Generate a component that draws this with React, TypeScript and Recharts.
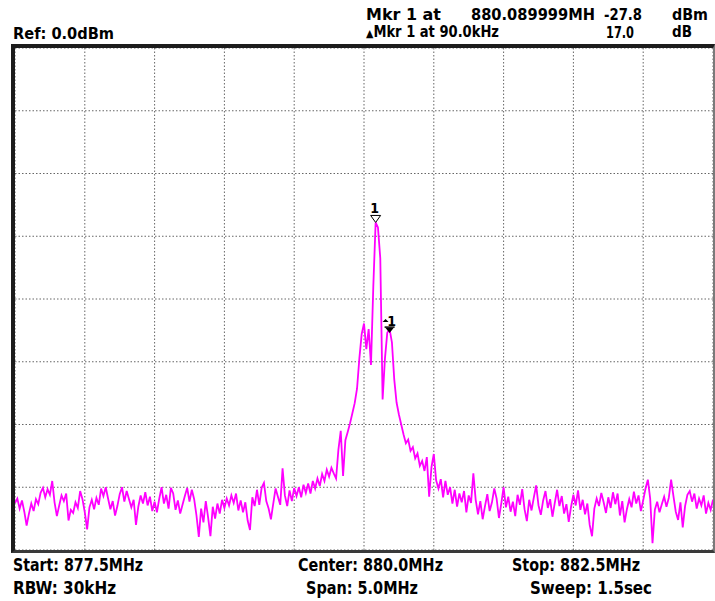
import React from 'react'
import { LineChart, Line, XAxis, YAxis, CartesianGrid, ReferenceDot } from 'recharts'

// sweep settings
const startMHz = 877.5
const stopMHz = 882.5
const freqTicks = [877.5, 878, 878.5, 879, 879.5, 880, 880.5, 881, 881.5, 882, 882.5]
const levelTicks = [-80, -70, -60, -50, -40, -30, -20, -10, 0]

// trace amplitude in dBm (301 sweep points)
const traceDbm = [
  -72.5, -71.8, -73.4, -72.1, -73.9, -76.1, -74.2, -72.6, -73.8, -71.9,
  -72.7, -70.9, -70.1, -71.6, -70.3, -71.2, -69.0, -72.4, -74.6, -72.9,
  -71.3, -72.2, -71.0, -75.3, -73.6, -74.1, -72.4, -73.3, -70.6, -71.9,
  -74.0, -76.7, -73.2, -72.0, -73.5, -71.7, -72.8, -70.2, -71.4, -70.0,
  -71.8, -73.5, -72.2, -74.5, -73.0, -71.1, -70.0, -72.3, -70.6, -71.9,
  -73.2, -72.0, -76.0, -73.1, -71.3, -72.6, -70.8, -72.9, -71.5, -73.8,
  -72.3, -74.0, -71.8, -70.0, -72.6, -71.2, -73.4, -70.1, -71.0, -73.6,
  -72.1, -74.2, -72.8, -71.4, -70.1, -72.3, -70.4, -71.9, -74.5, -77.9,
  -73.4, -75.6, -72.2, -74.8, -77.8, -73.1, -75.0, -72.6, -74.2, -72.0,
  -73.3, -71.8, -72.9, -71.3, -72.5, -71.0, -73.7, -72.1, -74.0, -72.4,
  -75.3, -76.8, -71.6, -73.0, -70.4, -72.8, -70.1, -69.3, -72.2, -73.4,
  -75.1, -72.6, -70.2, -71.5, -72.8, -67.0, -71.3, -73.0, -70.5, -72.2,
  -70.1, -71.4, -70.0, -71.6, -69.6, -70.9, -69.4, -71.0, -69.0, -70.2,
  -68.6, -69.8, -67.9, -69.0, -67.2, -68.3, -66.9, -67.8, -68.6, -64.0,
  -61.0, -68.2, -62.5, -61.2, -59.8, -58.2, -56.6, -54.3, -49.5, -45.6,
  -43.9, -48.0, -44.8, -50.5, -38.0, -27.8, -28.6, -33.5, -56.0, -49.5,
  -45.4, -44.8, -46.9, -52.8, -56.5, -58.4, -60.0, -61.6, -63.0, -62.4,
  -64.2, -63.6, -65.4, -64.6, -66.6, -65.8, -67.4, -65.2, -71.5, -66.8,
  -64.7, -68.9, -70.2, -68.7, -71.6, -69.0, -71.2, -70.0, -72.6, -70.4,
  -73.1, -71.0, -72.4, -70.6, -74.0, -71.3, -72.5, -67.8, -72.0, -74.3,
  -72.2, -75.1, -73.0, -71.1, -73.8, -72.4, -70.2, -71.8, -74.9, -72.6,
  -70.0, -73.2, -71.5, -73.9, -72.3, -74.6, -71.2, -72.8, -70.3, -73.5,
  -75.4, -72.0, -73.7, -71.6, -69.7, -72.9, -74.4, -72.1, -70.6, -73.3,
  -71.9, -74.7, -72.5, -70.4, -73.0, -71.4, -74.2, -72.7, -75.5, -73.1,
  -71.2, -72.9, -70.5, -73.6, -72.0, -74.3, -72.6, -76.0, -77.8, -73.4,
  -71.8, -73.0, -70.9, -72.4, -74.1, -71.6, -73.3, -70.8, -72.7, -71.0,
  -74.5, -72.2, -75.6, -73.5, -71.9, -73.2, -70.7, -72.6, -71.3, -73.8,
  -72.1, -70.2, -68.8, -71.8, -78.9, -73.6, -72.3, -74.0, -72.7, -71.5,
  -73.1, -71.7, -68.8, -71.4, -73.9, -75.2, -72.4, -76.4, -73.0, -71.2,
  -70.6, -72.3, -71.0, -73.4, -71.8, -72.9, -71.3, -74.2, -72.5, -73.6,
  -72.0,
]

const marker1Index = 155
const deltaIndex = 161

const data = traceDbm.map((v, i) => ({
  f: startMHz + (i * (stopMHz - startMHz)) / (traceDbm.length - 1),
  v,
}))

const font = '"Liberation Sans Narrow", "DejaVu Sans Condensed", "Liberation Sans", Arial, sans-serif'

function Marker1(props: any) {
  const { cx, cy } = props
  if (cx == null || cy == null) return null
  return (
    <g>
      <text x={cx - 1} y={cy - 9} textAnchor="middle" fontFamily={font} fontWeight="bold" fontSize={14} fill="#000">
        1
      </text>
      <path d={`M${cx - 5},${cy - 7} L${cx + 5},${cy - 7} L${cx},${cy} Z`} fill="#fff" stroke="#000" strokeWidth={1} />
    </g>
  )
}

function DeltaMarker(props: any) {
  const { cx, cy } = props
  if (cx == null || cy == null) return null
  return (
    <g>
      <path d={`M${cx - 7},${cy - 7} L${cx - 4},${cy - 10} L${cx - 1},${cy - 7} Z`} fill="#000" />
      <text x={cx + 2} y={cy - 3} textAnchor="middle" fontFamily={font} fontWeight="bold" fontSize={14} fill="#000">
        1
      </text>
      <line x1={cx - 5} y1={cy - 2} x2={cx + 5} y2={cy - 2} stroke="#000" strokeWidth={1.5} />
      <path d={`M${cx - 4},${cy - 1} L${cx + 4},${cy - 1} L${cx},${cy + 4} Z`} fill="#000" />
    </g>
  )
}

interface LabelProps {
  x: number
  y: number
  w: number
  size?: number
  children: React.ReactNode
}

function Label({ x, y, w, size = 17, children }: LabelProps) {
  return (
    <text x={x} y={y} textLength={w} lengthAdjust="spacingAndGlyphs" fontFamily={font} fontWeight="bold" fontSize={size} fill="#000">
      {children}
    </text>
  )
}

export default function App() {
  return (
    <div style={{ position: 'absolute', left: 0, top: 0, width: 715, height: 601, background: '#fff', overflow: 'hidden' }}>
      <svg width={715} height={601} style={{ position: 'absolute', left: 0, top: 0 }}>
        <Label x={366} y={20} w={75} size={15}>Mkr 1 at</Label>
        <Label x={471} y={20} w={124} size={15}>880.089999MH</Label>
        <Label x={604} y={20} w={38} size={15}>-27.8</Label>
        <Label x={672} y={20} w={36} size={15}>dBm</Label>
        <Label x={13} y={39} w={101} size={16}>Ref: 0.0dBm</Label>
        <Label x={366} y={37} w={133} size={15}>
          <tspan fontSize={11}>▲</tspan>Mkr 1 at 90.0kHz
        </Label>
        <Label x={606} y={38} w={28} size={15}>17.0</Label>
        <Label x={672} y={37} w={20} size={15}>dB</Label>
        <Label x={13} y={571} w={130}>Start: 877.5MHz</Label>
        <Label x={298} y={571} w={145}>Center: 880.0MHz</Label>
        <Label x={512} y={571} w={128}>Stop: 882.5MHz</Label>
        <Label x={13} y={594} w={103}>RBW: 30kHz</Label>
        <Label x={306} y={594} w={112}>Span: 5.0MHz</Label>
        <Label x={530} y={594} w={122}>Sweep: 1.5sec</Label>
      </svg>
      <div
        style={{
          position: 'absolute',
          left: 11,
          top: 44,
          width: 698,
          height: 502,
          borderTop: '4px solid #1c1c1c',
          borderLeft: '4px solid #1c1c1c',
          borderRight: '2px solid #7a7a7a',
          borderBottom: '3px solid #3a3a3a',
          background: '#fff',
        }}
      >
        <LineChart width={698} height={502} data={data} margin={{ top: 0, right: 0, bottom: 0, left: 0 }}>
          <CartesianGrid stroke="#666" strokeDasharray="1.5 2" />
          <XAxis dataKey="f" type="number" domain={[startMHz, stopMHz]} ticks={freqTicks} hide />
          <YAxis type="number" domain={[-80, 0]} ticks={levelTicks} hide />
          <Line
            type="linear"
            dataKey="v"
            stroke="#ff00ff"
            strokeWidth={1.8}
            dot={false}
            isAnimationActive={false}
          />
          <ReferenceDot x={data[marker1Index].f} y={traceDbm[marker1Index]} shape={<Marker1 />} ifOverflow="visible" />
          <ReferenceDot x={data[deltaIndex].f} y={traceDbm[deltaIndex]} shape={<DeltaMarker />} ifOverflow="visible" />
        </LineChart>
      </div>
    </div>
  )
}
